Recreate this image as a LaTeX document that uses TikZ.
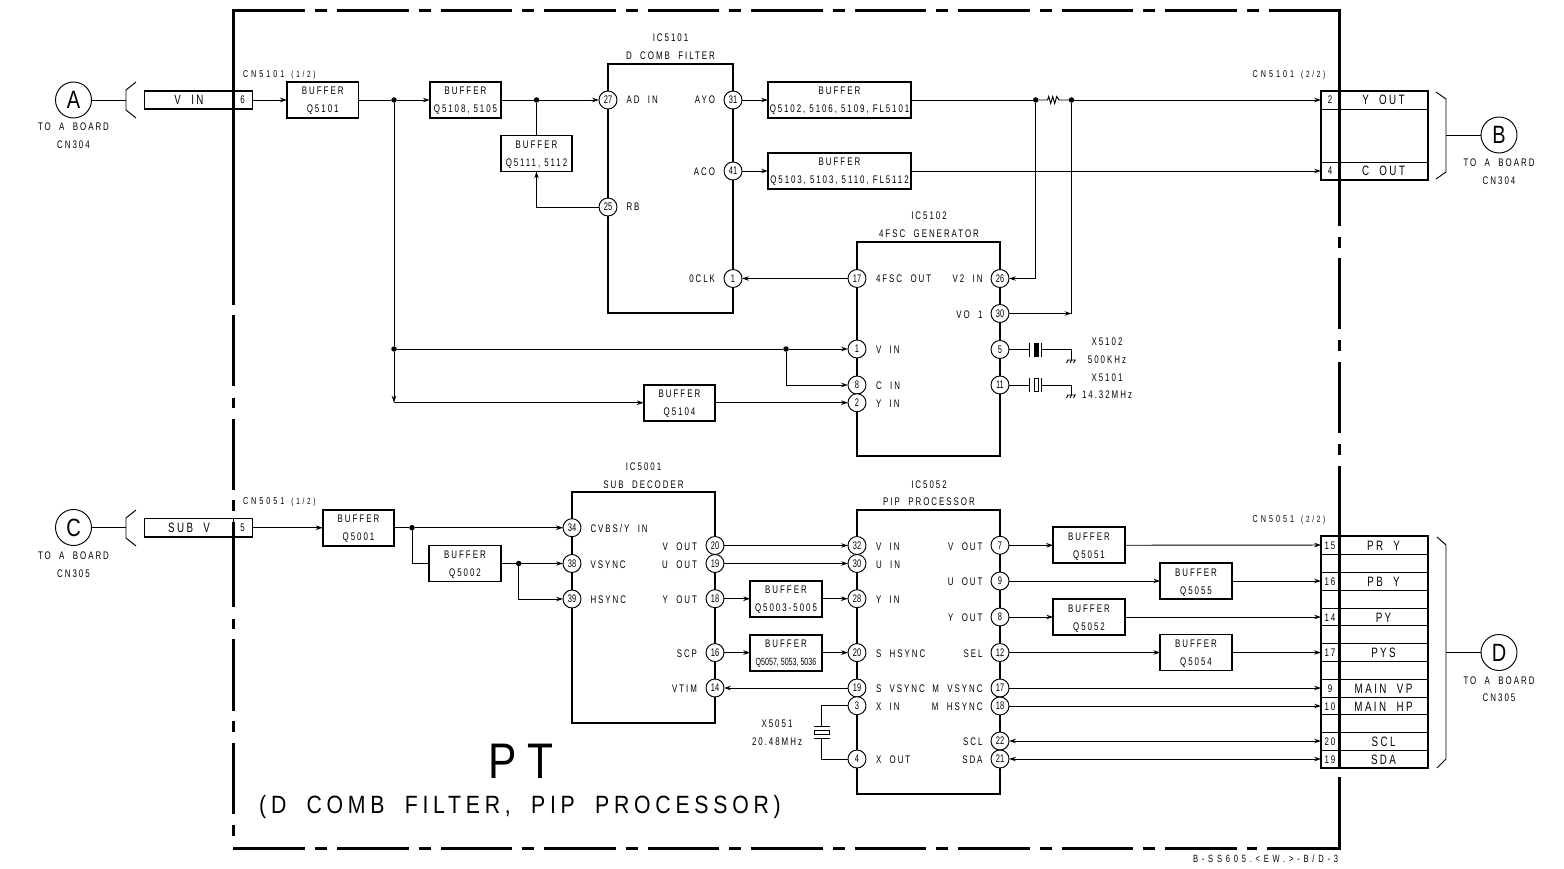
\documentclass[tikz,border=0pt]{standalone}
\usepackage{fontspec}
\usetikzlibrary{arrows.meta}
\setmainfont[FakeStretch=0.72,LetterSpace=18,WordSpace=2.0]{Liberation Sans}
\newfontfamily\pinfont[FakeStretch=0.68]{Liberation Sans}
\newfontfamily\bigfont[FakeStretch=0.8]{Liberation Sans}
\newfontfamily\titlefont[FakeStretch=0.85,LetterSpace=19,WordSpace=1.9]{Liberation Sans}
\newfontfamily\ptfont[FakeStretch=0.85,LetterSpace=22]{Liberation Sans}
\newfontfamily\qfont[FakeStretch=0.72,LetterSpace=17.5,WordSpace=1.0]{Liberation Sans}
\newfontfamily\widefont[FakeStretch=0.72,LetterSpace=36,WordSpace=1.8]{Liberation Sans}
\newfontfamily\cnfont[FakeStretch=0.72,LetterSpace=30,WordSpace=1.4]{Liberation Sans}
\newcounter{lbl}
\tikzset{
  txt/.style={inner sep=0pt,outer sep=0pt,text height=8pt,text depth=0pt,font=\fontsize{11}{13}\selectfont},
  smalltxt/.style={txt,font=\cnfont\fontsize{10}{12}\selectfont,text height=7pt},
  pinnode/.style={circle,draw,fill=white,line width=0.95pt,minimum size=18pt,inner sep=0pt,outer sep=0pt,font=\pinfont\fontsize{11}{11}\selectfont},
  bufbox/.style={draw,fill=white,line width=1.8pt,minimum height=36pt,inner sep=0pt,outer sep=0pt,align=center,font=\fontsize{11}{18}\selectfont},
  icbox/.style={draw,line width=1.9pt,inner sep=0pt,outer sep=0pt},
  cell/.style={draw,fill=white,line width=0.95pt,inner sep=0pt,outer sep=0pt,text height=10pt,text depth=0pt,font=\fontsize{13.6}{15}\selectfont},
  numcell/.style={cell,text height=8pt,font=\fontsize{11}{13}\selectfont},
  outline/.style={draw,line width=1.8pt,inner sep=0pt,outer sep=0pt},
  sig/.style={line width=0.95pt},
  arr/.style={sig,-{Stealth[length=7pt,width=4.6pt]}},
  arrb/.style={sig,{Stealth[length=7pt,width=4.6pt]}-{Stealth[length=7pt,width=4.6pt]}},
  junct/.style={circle,fill=black,inner sep=0pt,minimum size=5.5pt,outer sep=0pt},
  frameline/.style={line width=3pt},
  plate/.style={line width=1.5pt},
  offcirc/.style={circle,draw,fill=white,line width=0.95pt,minimum size=36pt,inner sep=0pt,outer sep=0pt,font=\bigfont\fontsize{25}{27}\selectfont},
  brk/.style={line width=0.95pt}
}
\newcommand\lab[4]{\stepcounter{lbl}\node[txt,anchor=#1] (t\arabic{lbl}) at (#2,#3) {#4};}
\newcommand\slab[4]{\stepcounter{lbl}\node[smalltxt,anchor=#1] (t\arabic{lbl}) at (#2,#3) {#4};}
\newcommand\pinC[4]{\node[pinnode] (#1) at (#2,#3) {#4};}
\newcommand\buf[6]{\node[bufbox,minimum width=#4pt] (#1) at (#2,#3) {\raisebox{0pt}[8pt][0pt]{#5}\\\raisebox{0pt}[8pt][0pt]{#6}};}
\newcommand\cnrow[5]{% name, y, height, number, label
  \node[numcell,minimum width=18pt,minimum height=#3pt] (#1n) at (1330,#2) {#4};
  \node[cell,minimum width=89pt,minimum height=#3pt] (#1) at (1383.5,#2) {#5};}
\newcommand\ptxt[1]{{\fontsize{9}{10}\selectfont #1}}
\newcommand\gnd[2]{\draw[line width=0.9pt] (#1-4.5,#2) -- (#1+4.5,#2)
   (#1-3.5,#2) -- (#1-5,#2+3) (#1,#2) -- (#1-1.5,#2+3) (#1+3.5,#2) -- (#1+2,#2+3);}
\begin{document}
\begin{tikzpicture}[x=1pt,y=-1pt]
\useasboundingbox (0,0) rectangle (1564,869);

% IC bodies
\node[icbox,minimum width=125pt,minimum height=249pt] (ic5101) at (670.5,188.5) {};
\node[icbox,minimum width=143pt,minimum height=214pt] (ic5102) at (928.5,349) {};
\node[icbox,minimum width=143pt,minimum height=231pt] (ic5001) at (643.5,607.5) {};
\node[icbox,minimum width=143pt,minimum height=284pt] (ic5052) at (928.5,652) {};

% connector A / C side
\node[cell,minimum width=89pt,minimum height=18pt] (vin) at (189,100) {V IN};
\node[numcell,minimum width=19pt,minimum height=18pt] (c6) at (242.5,100) {6};
\node[outline,minimum width=108pt,minimum height=18pt] (vinbox) at (198.5,100) {};
\node[cell,minimum width=89pt,minimum height=18.5pt] (subv) at (189,527.7) {SUB V};
\node[numcell,minimum width=19pt,minimum height=18.5pt] (c5) at (242.5,527.7) {5};
\node[outline,minimum width=108pt,minimum height=18.5pt] (subvbox) at (198.5,527.7) {};

% connector B
\cnrow{yout}{100}{18}{2}{Y OUT}
\cnrow{bgap}{135.5}{53}{}{}
\cnrow{cout}{171}{18}{4}{C OUT}
\node[outline,minimum width=107pt,minimum height=89pt] (bbox) at (1374.5,135.5) {};

% connector D
\cnrow{pry}{545}{18}{15}{PR Y}
\cnrow{e1}{563}{18}{}{}
\cnrow{pby}{581}{18}{16}{PB Y}
\cnrow{e2}{599}{18}{}{}
\cnrow{py}{617}{18}{14}{PY}
\cnrow{e3}{634.7}{18}{}{}
\cnrow{pys}{652.5}{18}{17}{PYS}
\cnrow{e4}{670}{18}{}{}
\cnrow{mvp}{688}{18}{9}{MAIN VP}
\cnrow{mhp}{706}{18}{10}{MAIN HP}
\cnrow{e5}{723.5}{18}{}{}
\cnrow{scl}{741}{18}{20}{SCL}
\cnrow{sda}{759}{18}{19}{SDA}
\node[outline,minimum width=107pt,minimum height=232pt] (dbox) at (1374.5,652) {};

% frame
\draw[frameline] (233,305) -- (233,11) -- (305,11);
\foreach \a/\b in {315/327,337/408.5,419/431,441/512,522/534,544/615.5,626/638,648/719,729/741,751/822.5,833/845,855/926,936/948,958/1029.5,1040/1052,1062/1133,1143/1155,1165/1236.5,1247/1259}
  {\draw[frameline] (\a,11) -- (\b,11);}
\draw[frameline] (1269,11) -- (1339,11) -- (1339,226);
\foreach \a/\b in {315/327,337/408.5,419/431,441/512,522/534,544/615.5,626/638,648/719,729/741,751/822.5,833/845,855/926,936/948,958/1029.5,1040/1052,1062/1133,1143/1155,1165/1236.5,1247/1257}
  {\draw[frameline] (\a,848) -- (\b,848);}
\draw[frameline] (305,848) -- (233,848);
\draw[frameline] (1267,848) -- (1339,848) -- (1339,777);
\foreach \a/\b in {237/248,258/329,340/351,362/433,444/455,466/768}
  {\draw[frameline] (1339,\a) -- (1339,\b);}
\foreach \a/\b in {305/180,190/202,212/283,295/304.5,315/386,397.5/408,419/490,500/511,522/607,619/629,639/710.5,721/732,743/814,825/835.5}
  {\draw[frameline] (233,\a) -- (233,\b);}

% off-sheet circles, brackets
\node[offcirc] (ca) at (73.5,100) {A};
\node[offcirc] (cc) at (73.5,527.5) {C};
\node[offcirc] (cb) at (1499,135) {B};
\node[offcirc] (cd) at (1499,652.5) {D};
\coordinate (ba) at (126,100);
\coordinate (bc) at (126,527.5);
\coordinate (bb) at (1446,135);
\coordinate (bd) at (1446,652.5);
\draw[brk] (136,82) -- (126,90) -- (126,110) -- (136,118);
\draw[brk] (136,510) -- (126,518) -- (126,538) -- (136,546);
\draw[brk] (1436,92) -- (1446,99) -- (1446,172) -- (1436,179);
\draw[brk] (1437,537) -- (1446,545) -- (1446,759) -- (1437,768);
\draw[sig] (ca) -- (ba);
\draw[sig] (cc) -- (bc);
\draw[sig] (cb) -- (bb);
\draw[sig] (cd) -- (bd);

% buffers
\buf{q5101}{322.7}{100}{71.5}{BUFFER}{Q5101}
\buf{q5108}{465.5}{100}{71.5}{BUFFER}{\qfont Q5108, 5105}
\buf{q5111}{536.5}{153.5}{71.5}{BUFFER}{\qfont Q5111, 5112}
\buf{q5102}{839.5}{100}{143}{BUFFER}{\qfont Q5102, 5106, 5109, FL5101}
\buf{q5103}{839.5}{171}{143}{BUFFER}{\qfont Q5103, 5103, 5110, FL5112}
\buf{q5104}{679.5}{402.7}{71.5}{BUFFER}{Q5104}
\buf{q5001}{358.5}{527.7}{71.5}{BUFFER}{Q5001}
\buf{q5002}{465}{563.5}{71.5}{BUFFER}{Q5002}
\buf{q5003}{786}{598.7}{71.5}{BUFFER}{Q5003-5005}
\buf{q5057}{786}{652.6}{71.5}{BUFFER}{\pinfont\fontsize{10.4}{18}\selectfont Q5057, 5053, 5036}
\buf{q5051}{1089}{545.3}{71.5}{BUFFER}{Q5051}
\buf{q5055}{1196}{581}{71.5}{BUFFER}{Q5055}
\buf{q5052}{1089}{617}{71.5}{BUFFER}{Q5052}
\buf{q5054}{1196}{652.5}{71.5}{BUFFER}{Q5054}

% pins IC5101
\pinC{a27}{608}{100}{27}
\pinC{a25}{608}{207}{25}
\pinC{a31}{733}{100}{31}
\pinC{a41}{733}{171}{41}
\pinC{a1}{733}{278.5}{1}
% pins IC5102
\pinC{b17}{857}{278.5}{17}
\pinC{b26}{1000}{278.5}{26}
\pinC{b30}{1000}{313.5}{30}
\pinC{b5}{1000}{349.5}{5}
\pinC{b11}{1000}{385}{11}
\pinC{b1}{857}{349}{1}
\pinC{b8}{857}{385}{8}
\pinC{b2}{857}{402.7}{2}
% pins IC5001
\pinC{s34}{572}{527.7}{34}
\pinC{s38}{572}{563.5}{38}
\pinC{s39}{572}{599}{39}
\pinC{s20}{715}{545.5}{20}
\pinC{s19}{715}{563.5}{19}
\pinC{s18}{715}{598.7}{18}
\pinC{s16}{715}{652.6}{16}
\pinC{s14}{715}{688}{14}
% pins IC5052
\pinC{m32}{857}{545.5}{32}
\pinC{m30}{857}{563.5}{30}
\pinC{m28}{857}{598.7}{28}
\pinC{m20}{857}{652.6}{20}
\pinC{m19}{857}{688}{19}
\pinC{m3}{857}{705.7}{3}
\pinC{m4}{857}{759}{4}
\pinC{m7}{1000}{545.3}{7}
\pinC{m9}{1000}{581}{9}
\pinC{m8}{1000}{617}{8}
\pinC{m12}{1000}{652.5}{12}
\pinC{m17}{1000}{688}{17}
\pinC{m18}{1000}{706}{18}
\pinC{m22}{1000}{741}{22}
\pinC{m21}{1000}{759}{21}

% junctions
\node[junct] (j394) at (394,100) {};
\node[junct] (j536) at (536.5,100) {};
\node[junct] (j1035) at (1035.7,100) {};
\node[junct] (j1071) at (1071.5,100) {};
\node[junct] (j349) at (394,349) {};
\node[junct] (j786) at (786,349) {};
\node[junct] (j412) at (412,527.7) {};
\node[junct] (j519) at (518.7,563.5) {};
\coordinate (c394) at (394,402.7);
\coordinate (c1071) at (1071.5,313.5);

% connectors top
\draw[arr] (c6) -- (q5101);
\draw[sig] (q5101) -- (j394);
\draw[arr] (j394) -- (q5108);
\draw[sig] (q5108) -- (j536);
\draw[arr] (j536) -- (a27);
\draw[sig] (j536) -- (q5111);
\draw[arr] (a25) -| (q5111.south);
\draw[arr] (a31) -- (q5102);
\draw[arr] (a41) -- (q5103);
\draw[arr] (b17) -- (a1);
\draw[sig] (q5102) -- (j1035);
\coordinate (rl) at (1047.5,100);
\coordinate (rr) at (1059,100);
\draw[sig] (j1035) -- (rl) -- ++(1.2,-3.5) -- ++(2,7) -- ++(2,-7) -- ++(2,7) -- ++(2,-7) -- (rr) -- (j1071);
\draw[arr] (j1071) -- (youtn);
\draw[arr] (q5103) -- (coutn);
\draw[arr] (j1035) |- (b26);
\draw[arr] (b30) -- (c1071);
\draw[sig] (c1071) -- (j1071);
\draw[sig] (j394) -- (j349);
\draw[arr] (j349) -- (c394);
\draw[arr] (c394) -- (q5104);
\draw[arr] (q5104) -- (b2);
\draw[sig] (j349) -- (j786);
\draw[arr] (j786) -- (b1);
\draw[arr] (j786) |- (b8);

% crystals IC5102
\coordinate (x5a) at (1029.5,349.5);
\coordinate (x5b) at (1041.5,349.5);
\coordinate (g5) at (1071.5,360);
\draw[sig] (b5) -- (x5a);
\draw[plate] (1029.5,342.5) -- (1029.5,356.5);
\fill (1034,343) rectangle (1038.5,356.5);
\draw[plate] (1041.5,342.5) -- (1041.5,356.5);
\draw[sig] (x5b) -| (g5);
\gnd{1071.5}{360}
\coordinate (x1a) at (1029.5,385);
\coordinate (x1b) at (1041.5,385);
\coordinate (g1) at (1071.5,395);
\draw[sig] (b11) -- (x1a);
\draw[plate] (1029.5,378) -- (1029.5,392);
\draw[line width=0.8pt] (1034,378.5) rectangle (1038.5,391.5);
\draw[plate] (1041.5,378) -- (1041.5,392);
\draw[sig] (x1b) -| (g1);
\gnd{1071.5}{395}

% connectors bottom
\draw[arr] (c5) -- (q5001);
\draw[sig] (q5001) -- (j412);
\draw[arr] (j412) -- (s34);
\draw[sig] (j412) |- (q5002);
\draw[sig] (q5002) -- (j519);
\draw[arr] (j519) -- (s38);
\draw[arr] (j519) |- (s39);
\draw[arr] (s20) -- (m32);
\draw[arr] (s19) -- (m30);
\draw[arr] (s18) -- (q5003);
\draw[arr] (q5003) -- (m28);
\draw[arr] (s16) -- (q5057);
\draw[arr] (q5057) -- (m20);
\draw[arr] (m19) -- (s14);
\draw[arr] (m7) -- (q5051);
\draw[arr] (q5051) -- (pryn);
\draw[arr] (m9) -- (q5055);
\draw[arr] (q5055) -- (pbyn);
\draw[arr] (m8) -- (q5052);
\draw[arr] (q5052) -- (pyn);
\draw[arr] (m12) -- (q5054);
\draw[arr] (q5054) -- (pysn);
\draw[arr] (m17) -- (mvpn);
\draw[arr] (m18) -- (mhpn);
\draw[arrb] (m22) -- (scln);
\draw[arrb] (m21) -- (sdan);

% crystal X5051
\coordinate (xt) at (821.7,726);
\coordinate (xb) at (821.7,738.5);
\draw[sig] (m3) -| (xt);
\draw[sig] (m4) -| (xb);
\draw[plate] (814,726.5) -- (829.5,726.5);
\draw[line width=0.8pt] (814.5,730.5) rectangle (829,734.5);
\draw[plate] (814,738.5) -- (829.5,738.5);

% texts
\lab{center}{73.5}{127}{TO A BOARD}
\lab{center}{73.5}{145}{CN304}
\lab{center}{73.5}{555}{TO A BOARD}
\lab{center}{73.5}{573}{CN305}
\lab{center}{1499}{163}{TO A BOARD}
\lab{center}{1499}{181}{CN304}
\lab{center}{1499}{680}{TO A BOARD}
\lab{center}{1499}{697}{CN305}
\slab{west}{243}{74}{CN5101 \ptxt{(1/2)}}
\slab{west}{243}{500.5}{CN5051 \ptxt{(1/2)}}
\slab{center}{1289}{74}{CN5101 \ptxt{(2/2)}}
\slab{center}{1289}{519}{CN5051 \ptxt{(2/2)}}
\lab{center}{670.5}{38}{IC5101}
\lab{center}{670.5}{56}{D COMB FILTER}
\lab{center}{929}{216}{IC5102}
\lab{center}{929}{234}{4FSC GENERATOR}
\lab{center}{643.5}{466}{IC5001}
\lab{center}{643.5}{484}{SUB DECODER}
\lab{center}{929}{484}{IC5052}
\lab{center}{929}{501}{PIP PROCESSOR}
\lab{west}{626.5}{100}{AD IN}
\lab{west}{626.5}{207}{RB}
\lab{east}{715}{100}{AYO}
\lab{east}{715}{172}{ACO}
\lab{east}{715}{279}{0CLK}
\lab{west}{876}{279}{4FSC OUT}
\lab{east}{982.5}{279}{V2 IN}
\lab{east}{982.5}{314}{VO 1}
\lab{west}{876}{349.5}{V IN}
\lab{west}{876}{385}{C IN}
\lab{west}{876}{403}{Y IN}
\lab{center}{1107}{341}{X5102}
\lab{center}{1107}{359}{500KHz}
\lab{center}{1107}{377}{X5101}
\lab{center}{1107}{394}{14.32MHz}
\lab{west}{590.5}{528}{CVBS/Y IN}
\lab{west}{590.5}{564}{VSYNC}
\lab{west}{590.5}{599}{HSYNC}
\lab{east}{697}{546}{V OUT}
\lab{east}{697}{564}{U OUT}
\lab{east}{697}{599}{Y OUT}
\lab{east}{697}{653}{SCP}
\lab{east}{697}{688}{VTIM}
\lab{west}{876}{546}{V IN}
\lab{west}{876}{564}{U IN}
\lab{west}{876}{599}{Y IN}
\lab{west}{876}{653}{S HSYNC}
\lab{west}{876}{688}{S VSYNC}
\lab{west}{876}{706}{X IN}
\lab{west}{876}{759}{X OUT}
\lab{east}{982.5}{546}{V OUT}
\lab{east}{982.5}{581.5}{U OUT}
\lab{east}{982.5}{617}{Y OUT}
\lab{east}{982.5}{653}{SEL}
\lab{east}{982.5}{688}{M VSYNC}
\lab{east}{982.5}{706}{M HSYNC}
\lab{east}{982.5}{741.5}{SCL}
\lab{east}{982.5}{759.5}{SDA}
\lab{center}{777}{723.5}{X5051}
\lab{center}{777}{741.7}{20.48MHz}
\node[txt,anchor=east,font=\widefont\fontsize{10.5}{12}\selectfont] (ref) at (1338,858) {B-SS605.<EW.>-B/D-3};
\node[inner sep=0pt,text height=36pt,text depth=0pt,font=\ptfont\fontsize{50}{52}\selectfont] (ttl) at (521,760) {PT};
\node[inner sep=0pt,text height=18pt,text depth=0pt,anchor=west,font=\titlefont\fontsize{25}{27}\selectfont] (sub) at (259,804.5) {(D COMB FILTER, PIP PROCESSOR)};
\end{tikzpicture}
\end{document}
